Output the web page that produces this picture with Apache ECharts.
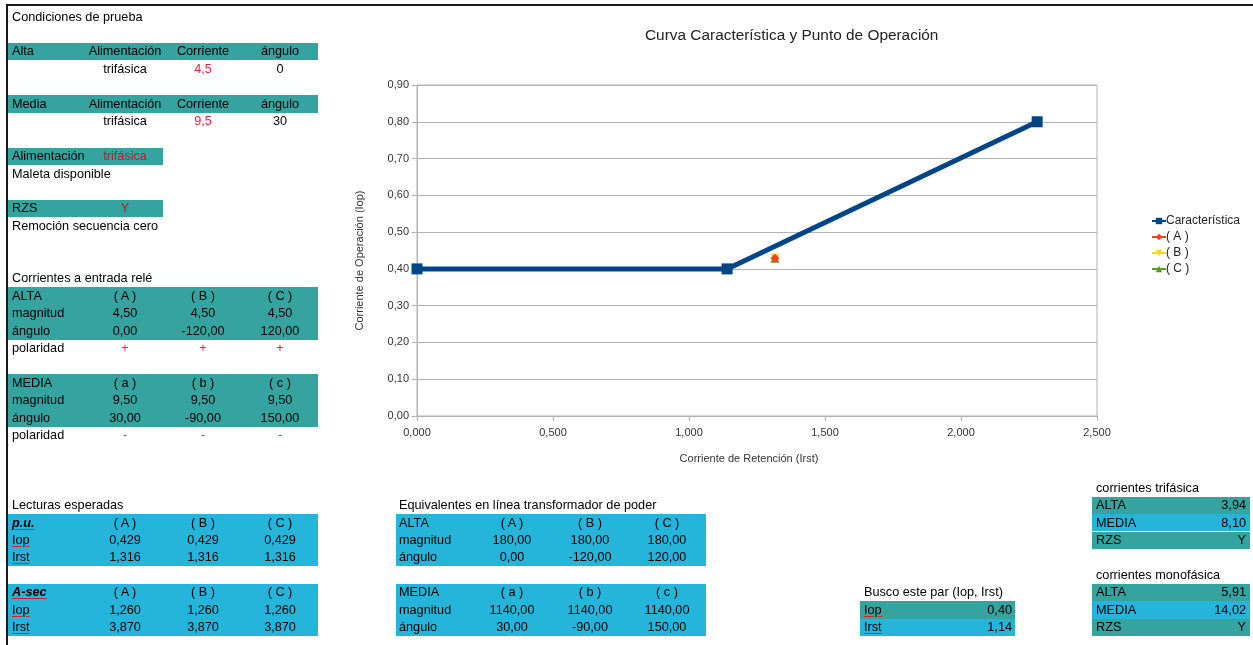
<!DOCTYPE html>
<html>
<head>
<meta charset="utf-8">
<script src="https://cdn.jsdelivr.net/npm/echarts@6/dist/echarts.min.js"></script>
<style>
  html, body { margin: 0; padding: 0; background: #fff; }
  #page { position: relative; width: 1253px; height: 645px; overflow: hidden;
          font-family: "Liberation Sans", Arial, sans-serif; font-size: 12.7px; color: #000; }
  #chart { position: absolute; left: 0; top: 0; width: 1253px; height: 645px; }
  #sheet { position: absolute; left: 0; top: 0; width: 1253px; height: 645px; pointer-events: none; }
  .c { position: absolute; white-space: nowrap; line-height: 17px; }
  .band { position: absolute; }
  .sp { text-decoration: underline; text-decoration-color: #e02020; text-underline-offset: 2px; }
  .hd { font-weight: bold; font-style: italic; text-decoration: underline; text-decoration-color: #e02020; text-underline-offset: 2px; }
</style>
</head>
<body>
<div id="page">
  <div id="chart"></div>
  <div id="sheet"></div>
</div>
<script>
// ---- Characteristic curve (Irst, Iop) ----
const curveIrst = [0, 1.14, 2.28];
const curveIop  = [0.40, 0.40, 0.80];
// ---- Expected readings per phase (p.u.) ----
const phaseNames = ['( A )', '( B )', '( C )'];
const phaseIrst = [1.316, 1.316, 1.316];
const phaseIop  = [0.429, 0.429, 0.429];
const phaseColors = ['#ff420e', '#ffd320', '#579d1c'];
const phaseSymbols = ['diamond', 'path://M0,0 L10,0 L5,10 Z', 'triangle'];

// ---- Sheet contents ----
const lowerCols = ['( a )', '( b )', '( c )'];
const altaMag = ['4,50', '4,50', '4,50'];
const altaAng = ['0,00', '-120,00', '120,00'];
const mediaMag = ['9,50', '9,50', '9,50'];
const mediaAng = ['30,00', '-90,00', '150,00'];
const puIop = ['0,429', '0,429', '0,429'];
const puIrst = ['1,316', '1,316', '1,316'];
const secIop = ['1,260', '1,260', '1,260'];
const secIrst = ['3,870', '3,870', '3,870'];
const eqAltaMag = ['180,00', '180,00', '180,00'];
const eqMediaMag = ['1140,00', '1140,00', '1140,00'];
const triLabels = ['ALTA', 'MEDIA', 'RZS'];
const triValues = ['3,94', '8,10', 'Y'];
const monoValues = ['5,91', '14,02', 'Y'];
const pairLabels = ['Iop', 'Irst'];
const pairValues = ['0,40', '1,14'];

const TEAL = '#35a39f';
const CYAN = '#25b5da';
const RED = '#e8233a';
const DARKRED = '#b8202a';

// ---------- spreadsheet layer ----------
const sheet = document.getElementById('sheet');
const ROW0 = 8, RH = 17.45;
const rowTop = r => ROW0 + RH * r;

function band(x1, x2, r1, r2, color) {
  const d = document.createElement('div');
  d.className = 'band';
  d.style.left = x1 + 'px';
  d.style.width = (x2 - x1) + 'px';
  d.style.top = rowTop(r1) + 'px';
  d.style.height = (rowTop(r2 + 1) - rowTop(r1)) + 'px';
  d.style.background = color;
  sheet.appendChild(d);
}
// align: 'l' at x, 'c' centered on x, 'r' ending at x
function txt(x, r, s, align, opts) {
  const d = document.createElement('div');
  d.className = 'c' + (opts && opts.cls ? ' ' + opts.cls : '');
  d.textContent = s;
  d.style.top = (rowTop(r) + 0.5) + 'px';
  if (align === 'c') { d.style.left = (x - 100) + 'px'; d.style.width = '200px'; d.style.textAlign = 'center'; }
  else if (align === 'r') { d.style.left = (x - 200) + 'px'; d.style.width = '200px'; d.style.textAlign = 'right'; }
  else { d.style.left = x + 'px'; }
  if (opts && opts.color) d.style.color = opts.color;
  sheet.appendChild(d);
}

// frame lines of the sheet
(function () {
  const t = document.createElement('div');
  t.style.cssText = 'position:absolute;left:6px;top:4px;width:1247px;height:2px;background:#1a1a1a;';
  sheet.appendChild(t);
  const l = document.createElement('div');
  l.style.cssText = 'position:absolute;left:6px;top:4px;width:2px;height:641px;background:#1a1a1a;';
  sheet.appendChild(l);
})();

const LX = 12, C1 = 125, C2 = 203, C3 = 280, LEND = 318, LSTART = 8;
const cols3 = [C1, C2, C3];

txt(LX, 0, 'Condiciones de prueba', 'l');
band(LSTART, LEND, 2, 2, TEAL);
txt(LX, 2, 'Alta', 'l'); txt(C1, 2, 'Alimentación', 'c'); txt(C2, 2, 'Corriente', 'c'); txt(C3, 2, 'ángulo', 'c');
txt(C1, 3, 'trifásica', 'c'); txt(C2, 3, '4,5', 'c', { color: RED }); txt(C3, 3, '0', 'c');
band(LSTART, LEND, 5, 5, TEAL);
txt(LX, 5, 'Media', 'l'); txt(C1, 5, 'Alimentación', 'c'); txt(C2, 5, 'Corriente', 'c'); txt(C3, 5, 'ángulo', 'c');
txt(C1, 6, 'trifásica', 'c'); txt(C2, 6, '9,5', 'c', { color: RED }); txt(C3, 6, '30', 'c');
band(LSTART, 163, 8, 8, TEAL);
txt(LX, 8, 'Alimentación', 'l'); txt(C1, 8, 'trifásica', 'c', { color: DARKRED });
txt(LX, 9, 'Maleta disponible', 'l');
band(LSTART, 163, 11, 11, TEAL);
txt(LX, 11, 'RZS', 'l'); txt(C1, 11, 'Y', 'c', { color: DARKRED });
txt(LX, 12, 'Remoción secuencia cero', 'l');

txt(LX, 15, 'Corrientes a entrada relé', 'l');
band(LSTART, LEND, 16, 18, TEAL);
txt(LX, 16, 'ALTA', 'l'); phaseNames.forEach((s, i) => txt(cols3[i], 16, s, 'c'));
txt(LX, 17, 'magnitud', 'l'); altaMag.forEach((s, i) => txt(cols3[i], 17, s, 'c'));
txt(LX, 18, 'ángulo', 'l'); altaAng.forEach((s, i) => txt(cols3[i], 18, s, 'c'));
txt(LX, 19, 'polaridad', 'l'); cols3.forEach(x => txt(x, 19, '+', 'c', { color: RED }));
band(LSTART, LEND, 21, 23, TEAL);
txt(LX, 21, 'MEDIA', 'l'); lowerCols.forEach((s, i) => txt(cols3[i], 21, s, 'c'));
txt(LX, 22, 'magnitud', 'l'); mediaMag.forEach((s, i) => txt(cols3[i], 22, s, 'c'));
txt(LX, 23, 'ángulo', 'l'); mediaAng.forEach((s, i) => txt(cols3[i], 23, s, 'c'));
txt(LX, 24, 'polaridad', 'l'); cols3.forEach(x => txt(x, 24, '-', 'c', { color: RED }));

txt(LX, 28, 'Lecturas esperadas', 'l');
band(LSTART, LEND, 29, 31, CYAN);
txt(LX, 29, 'p.u.', 'l', { cls: 'hd' }); phaseNames.forEach((s, i) => txt(cols3[i], 29, s, 'c'));
txt(LX, 30, 'Iop', 'l', { cls: 'sp' }); puIop.forEach((s, i) => txt(cols3[i], 30, s, 'c'));
txt(LX, 31, 'Irst', 'l', { cls: 'sp' }); puIrst.forEach((s, i) => txt(cols3[i], 31, s, 'c'));
band(LSTART, LEND, 33, 35, CYAN);
txt(LX, 33, 'A-sec', 'l', { cls: 'hd' }); phaseNames.forEach((s, i) => txt(cols3[i], 33, s, 'c'));
txt(LX, 34, 'Iop', 'l', { cls: 'sp' }); secIop.forEach((s, i) => txt(cols3[i], 34, s, 'c'));
txt(LX, 35, 'Irst', 'l', { cls: 'sp' }); secIrst.forEach((s, i) => txt(cols3[i], 35, s, 'c'));

// equivalents on the power transformer line
const EX = 399, E1 = 512, E2 = 590, E3 = 667, ESTART = 396, EEND = 706;
const ecols = [E1, E2, E3];
txt(EX, 28, 'Equivalentes en línea transformador de poder', 'l');
band(ESTART, EEND, 29, 31, CYAN);
txt(EX, 29, 'ALTA', 'l'); phaseNames.forEach((s, i) => txt(ecols[i], 29, s, 'c'));
txt(EX, 30, 'magnitud', 'l'); eqAltaMag.forEach((s, i) => txt(ecols[i], 30, s, 'c'));
txt(EX, 31, 'ángulo', 'l'); altaAng.forEach((s, i) => txt(ecols[i], 31, s, 'c'));
band(ESTART, EEND, 33, 35, CYAN);
txt(EX, 33, 'MEDIA', 'l'); lowerCols.forEach((s, i) => txt(ecols[i], 33, s, 'c'));
txt(EX, 34, 'magnitud', 'l'); eqMediaMag.forEach((s, i) => txt(ecols[i], 34, s, 'c'));
txt(EX, 35, 'ángulo', 'l'); mediaAng.forEach((s, i) => txt(ecols[i], 35, s, 'c'));

// pair being looked for
txt(864, 33, 'Busco este par (Iop, Irst)', 'l');
pairLabels.forEach((s, i) => {
  band(860, 1015, 34 + i, 34 + i, i === 0 ? TEAL : CYAN);
  txt(864, 34 + i, s, 'l', { cls: 'sp' });
  txt(1012, 34 + i, pairValues[i], 'r');
});

// three-phase and single-phase currents
function smallTable(r0, title, values) {
  txt(1096, r0, title, 'l');
  triLabels.forEach((s, i) => {
    band(1092, 1250, r0 + 1 + i, r0 + 1 + i, i === 1 ? CYAN : TEAL);
    txt(1096, r0 + 1 + i, s, 'l');
    txt(1246, r0 + 1 + i, values[i], 'r');
  });
}
smallTable(27, 'corrientes trifásica', triValues);
smallTable(32, 'corrientes monofásica', monoValues);

// ---------- chart ----------
const chart = echarts.init(document.getElementById('chart'), null, { renderer: 'canvas' });
const FONT = 'Liberation Sans, Arial, sans-serif';
const axisText = { color: '#333', fontSize: 11, fontFamily: FONT };
const gridColor = '#b3b3b3';

const series = [{
  name: 'Característica',
  type: 'line',
  data: curveIrst.map((x, i) => [x, curveIop[i]]),
  symbol: 'rect',
  symbolSize: 11,
  lineStyle: { color: '#004586', width: 5 },
  itemStyle: { color: '#004586' },
  z: 2
}];
phaseNames.forEach((n, i) => {
  series.push({
    name: n,
    type: 'line',
    data: [[phaseIrst[i], phaseIop[i]]],
    symbol: phaseSymbols[i],
    symbolSize: 9,
    lineStyle: { color: phaseColors[i], width: 2 },
    itemStyle: { color: phaseColors[i] },
    z: 5 - i
  });
});

chart.setOption({
  backgroundColor: 'transparent',
  animation: false,
  title: {
    text: 'Curva Característica y Punto de Operación',
    left: 640, top: 23,
    textStyle: { color: '#222', fontSize: 15.4, fontWeight: 'normal', fontFamily: FONT }
  },
  legend: {
    orient: 'vertical',
    left: 1146, top: 210,
    itemWidth: 14, itemHeight: 8, itemGap: 4,
    textStyle: { color: '#222', fontSize: 12, fontFamily: FONT, padding: [0, 0, 0, -5] },
    data: ['Característica', '( A )', '( B )', '( C )']
  },
  grid: {
    left: 417, top: 85, width: 680, height: 331,
    show: true, borderColor: gridColor, borderWidth: 1, containLabel: false
  },
  xAxis: {
    type: 'value', min: 0, max: 2.5, interval: 0.5,
    name: 'Corriente de Retención (Irst)', nameLocation: 'middle', nameGap: 37,
    nameTextStyle: Object.assign({ padding: [0, 16, 0, 0] }, axisText),
    axisLine: { show: true, lineStyle: { color: gridColor } },
    axisTick: { show: true, length: 5, lineStyle: { color: gridColor } },
    axisLabel: Object.assign({ margin: 11, formatter: v => v.toFixed(3).replace('.', ',') }, axisText),
    splitLine: { show: false }
  },
  yAxis: {
    type: 'value', min: 0, max: 0.9, interval: 0.1,
    name: 'Corriente de Operación (Iop)', nameLocation: 'middle', nameGap: 52,
    nameTextStyle: Object.assign({ padding: [0, 20, 0, 0] }, axisText),
    axisLine: { show: true, lineStyle: { color: gridColor } },
    axisTick: { show: true, length: 5, lineStyle: { color: gridColor } },
    axisLabel: Object.assign({ margin: 8, formatter: v => v.toFixed(2).replace('.', ',') }, axisText),
    splitLine: { show: true, lineStyle: { color: gridColor, width: 1 } }
  },
  series: series
});
</script>
</body>
</html>
